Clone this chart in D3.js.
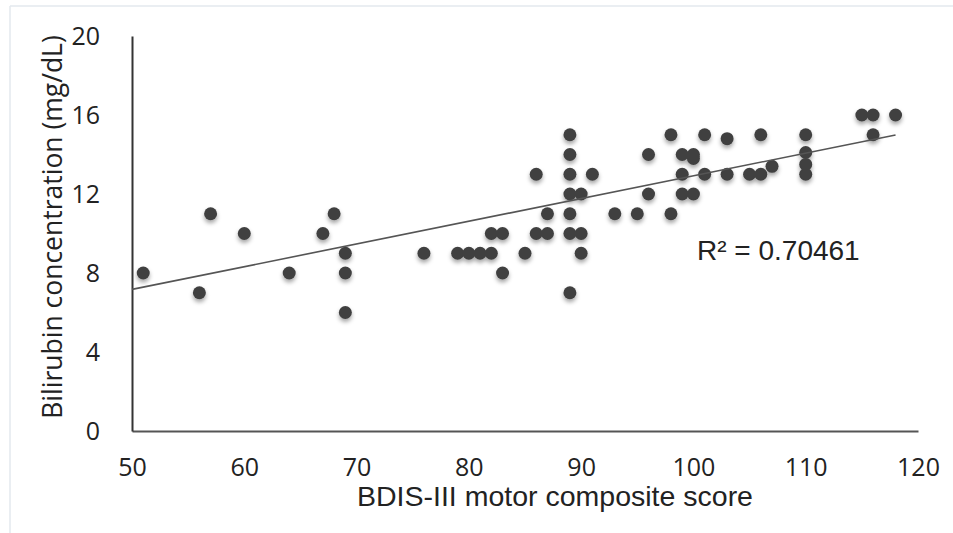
<!DOCTYPE html>
<html>
<head>
<meta charset="utf-8">
<script src="https://cdn.jsdelivr.net/npm/d3@7"></script>
<style>
  html, body { margin: 0; padding: 0; background: #fff; }
  svg { display: block; }
</style>
</head>
<body>
<svg id="chart" width="953" height="533"></svg>
<script>
// ---- data ----
const scoreX = [51, 56, 57, 60, 64, 67, 68, 69, 69, 69,
  76, 79, 80, 81, 82, 82, 83, 83, 85, 86, 86, 87, 87,
  89, 89, 89, 89, 89, 89, 89, 90, 90, 90, 91, 93, 95,
  96, 96, 98, 98, 99, 99, 99, 100, 100, 100, 101, 101,
  103, 103, 105, 106, 106, 107, 110, 110, 110, 110,
  115, 116, 116, 118];
const bilirubinY = [8, 7, 11, 10, 8, 10, 11, 9, 8, 6,
  9, 9, 9, 9, 9, 10, 10, 8, 9, 13, 10, 11, 10,
  15, 14, 13, 12, 11, 10, 7, 12, 10, 9, 13, 11, 11,
  14, 12, 15, 11, 14, 13, 12, 14, 13.8, 12, 15, 13,
  14.8, 13, 13, 15, 13, 13.4, 15, 14.1, 13.5, 13,
  16, 16, 15, 16];
const xTicks = [50, 60, 70, 80, 90, 100, 110, 120];
const yTicks = [0, 4, 8, 12, 16, 20];
const trendX = [50, 118];
const trendY = [7.17, 14.99];
const rSquaredLabel = "R² = 0.70461";
const xTitle = "BDIS-III motor composite score";
const yTitle = "Bilirubin concentration (mg/dL)";

// ---- layout ----
const svg = d3.select("#chart");
const x = d3.scaleLinear().domain([50, 120]).range([132, 918]);
const y = d3.scaleLinear().domain([0, 20]).range([431, 36]);

// faint outer frame
svg.append("line").attr("x1", 10).attr("x2", 953).attr("y1", 6).attr("y2", 6)
  .attr("stroke", "#e3e9ee").attr("stroke-width", 1.5);
svg.append("line").attr("x1", 10).attr("x2", 10).attr("y1", 6).attr("y2", 533)
  .attr("stroke", "#e3e9ee").attr("stroke-width", 1.5);

// shadow filter
const defs = svg.append("defs");
const f = defs.append("filter").attr("id", "shadow")
  .attr("x", "-60%").attr("y", "-60%").attr("width", "220%").attr("height", "240%");
f.append("feDropShadow").attr("dx", 0).attr("dy", 3).attr("stdDeviation", 2)
  .attr("flood-color", "#000").attr("flood-opacity", 0.35);

// axes
const xAxis = d3.axisBottom(x).tickValues(xTicks).tickSize(0).tickPadding(27)
  .tickFormat(d3.format("d"));
const yAxis = d3.axisLeft(y).tickValues(yTicks).tickSize(0).tickPadding(32)
  .tickFormat(d3.format("d"));

const gx = svg.append("g").attr("transform", `translate(0,${y(0)})`).call(xAxis);
gx.select(".domain").attr("stroke", "#555").attr("stroke-width", 2);
gx.selectAll("text").attr("font-family", "'Open Sans', sans-serif")
  .attr("font-size", 25).attr("fill", "#222");

const gy = svg.append("g").attr("transform", `translate(${x(50)},0)`).call(yAxis);
gy.select(".domain").attr("stroke", "#333").attr("stroke-width", 2);
gy.selectAll("text").attr("font-family", "'Open Sans', sans-serif")
  .attr("font-size", 25).attr("fill", "#222");

// points
svg.append("g").attr("filter", "url(#shadow)")
  .selectAll("circle")
  .data(scoreX.map((d, i) => [d, bilirubinY[i]]))
  .join("circle")
  .attr("cx", d => x(d[0]))
  .attr("cy", d => y(d[1]))
  .attr("r", 6.5)
  .attr("fill", "#404040");

// trendline
svg.append("line")
  .attr("x1", x(trendX[0])).attr("y1", y(trendY[0]))
  .attr("x2", x(trendX[1])).attr("y2", y(trendY[1]))
  .attr("stroke", "#555").attr("stroke-width", 1.6);

// R² label
svg.append("text").attr("x", 697).attr("y", 260)
  .attr("font-family", "'Liberation Sans', Arial, sans-serif")
  .attr("font-size", 28).attr("fill", "#222")
  .text(rSquaredLabel);

// axis titles
svg.append("text").attr("x", 555).attr("y", 506)
  .attr("text-anchor", "middle")
  .attr("font-family", "'Liberation Sans', Arial, sans-serif")
  .attr("font-size", 28.5).attr("fill", "#222")
  .text(xTitle);

svg.append("text")
  .attr("transform", "translate(62,227) rotate(-90)")
  .attr("text-anchor", "middle")
  .attr("font-family", "'Open Sans', sans-serif")
  .attr("font-size", 26.5).attr("fill", "#222")
  .text(yTitle);
</script>
</body>
</html>
